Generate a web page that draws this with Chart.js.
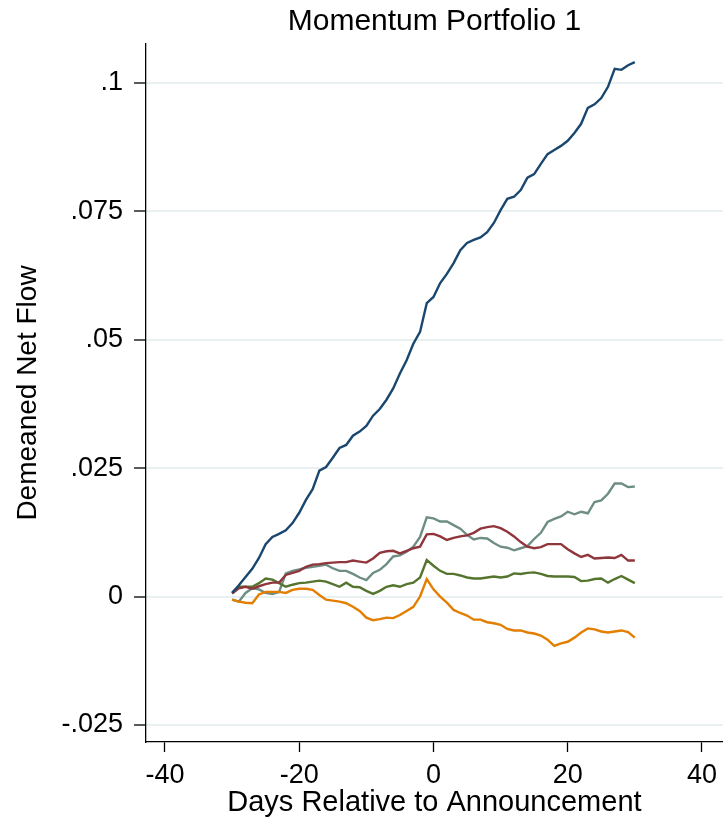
<!DOCTYPE html>
<html>
<head>
<meta charset="utf-8">
<script src="https://cdn.jsdelivr.net/npm/chart.js@4"></script>
<style>
  html, body { margin: 0; padding: 0; background: #fff; }
  #wrap { width: 724px; height: 820px; }
</style>
</head>
<body>
<div id="wrap"><canvas id="chart" width="724" height="820"></canvas></div>
<script>
// ---- data (days -30..30) ----
const days = [
  -30, -29, -28, -27, -26, -25, -24, -23, -22, -21,
  -20, -19, -18, -17, -16, -15, -14, -13, -12, -11,
  -10, -9, -8, -7, -6, -5, -4, -3, -2, -1,
  0,
  1, 2, 3, 4, 5, 6, 7, 8, 9, 10,
  11, 12, 13, 14, 15, 16, 17, 18, 19, 20,
  21, 22, 23, 24, 25, 26, 27, 28, 29, 30
];

const navySeries = [
  .0007, .0022, .0038, .0054, .0075, .0102, .0116, .0122, .0129, .0143,
  .0163, .0188, .0209, .0245, .0252, .0270, .0289, .0295, .0313, .0321,
  .0332, .0352, .0365, .0383, .0405, .0434, .0460, .0492, .0515, .0571,
  .0583,
  .0610, .0628, .0649, .0674, .0688, .0694, .0699, .0709, .0727, .0752,
  .0774, .0778, .0791, .0815, .0822, .0842, .0861, .0869, .0877, .0887,
  .0902, .0920, .0951, .0958, .0970, .0992, .1027, .1025, .1034, .1040
];

const maroonSeries = [
  .0006, .0016, .0019, .0015, .0020, .0024, .0027, .0027, .0042, .0046,
  .0050, .0058, .0062, .0063, .0065, .0066, .0067, .0067, .0070, .0068,
  .0066, .0074, .0085, .0088, .0089, .0084, .0089, .0094, .0097, .0121,
  .0122,
  .0117, .0110, .0114, .0117, .0119, .0124, .0132, .0135, .0137, .0133,
  .0126, .0117, .0106, .0097, .0094, .0096, .0102, .0102, .0102, .0092,
  .0084, .0077, .0081, .0074, .0075, .0076, .0075, .0081, .0070, .0070
];

const greenSeries = [
  .0008, .0019, .0019, .0019, .0026, .0035, .0033, .0026, .0019, .0023,
  .0026, .0027, .0029, .0031, .0029, .0024, .0019, .0027, .0019, .0018,
  .0011, .0005, .0011, .0019, .0022, .0019, .0024, .0027, .0037, .0071,
  .0060,
  .0050, .0044, .0044, .0041, .0037, .0035, .0035, .0037, .0039, .0037,
  .0039, .0045, .0044, .0046, .0047, .0044, .0040, .0039, .0039, .0039,
  .0038, .0030, .0031, .0034, .0035, .0027, .0034, .0040, .0033, .0026
];

const orangeSeries = [
  -.0006, -.0010, -.0012, -.0013, .0004, .0009, .0009, .0009, .0007, .0013,
  .0015, .0015, .0013, .0003, -.0006, -.0008, -.0010, -.0013, -.0020, -.0028,
  -.0041, -.0046, -.0044, -.0041, -.0042, -.0036, -.0028, -.0020, .0000, .0034,
  .0014,
  .0000, -.0012, -.0026, -.0032, -.0037, -.0045, -.0045, -.0050, -.0052, -.0055,
  -.0063, -.0066, -.0066, -.0070, -.0072, -.0076, -.0084, -.0096, -.0091, -.0088,
  -.0080, -.0070, -.0062, -.0064, -.0068, -.0070, -.0068, -.0066, -.0069, -.0080
];

const tealSeries = [
  -.0006, -.0010, .0007, .0016, .0014, .0007, .0005, .0009, .0045, .0050,
  .0053, .0056, .0058, .0060, .0062, .0055, .0050, .0050, .0044, .0037,
  .0032, .0046, .0052, .0063, .0078, .0080, .0087, .0097, .0116, .0154,
  .0152,
  .0146, .0146, .0139, .0132, .0120, .0111, .0114, .0113, .0104, .0097,
  .0095, .0090, .0094, .0098, .0112, .0124, .0145, .0151, .0156, .0165,
  .0160, .0165, .0162, .0184, .0187, .0200, .0220, .0220, .0213, .0214
];

const xTicks = [-40, -20, 0, 20, 40];
const yTicks = [-.025, 0, .025, .05, .075, .1];
const yTickLabels = ['-.025', '0', '.025', '.05', '.075', '.1'];

// ---- chart ----
const FONT = '"Liberation Sans", Arial, Helvetica, sans-serif';

function series(values, color) {
  return {
    data: days.map((d, i) => ({ x: d, y: values[i] })),
    borderColor: color,
    backgroundColor: color,
    borderWidth: 2.4,
    pointRadius: 0,
    tension: 0,
    fill: false
  };
}

new Chart(document.getElementById('chart'), {
  type: 'line',
  data: {
    datasets: [
      series(navySeries, '#1a476f'),
      series(maroonSeries, '#90353b'),
      series(greenSeries, '#55752f'),
      series(orangeSeries, '#e37e00'),
      series(tealSeries, '#6e8e84')
    ]
  },
  options: {
    responsive: false,
    animation: false,
    layout: { padding: 0 },
    plugins: {
      legend: { display: false },
      tooltip: { enabled: false },
      title: {
        display: true,
        text: 'Momentum Portfolio 1',
        fullSize: false,
        color: '#000',
        font: { family: FONT, size: 30, weight: 'normal' },
        padding: { top: 4, bottom: 4 }
      }
    },
    scales: {
      x: {
        type: 'linear',
        min: -42.83,
        max: 43.12,
        afterBuildTicks: s => { s.ticks = xTicks.map(v => ({ value: v })); },
        afterFit: s => { s.height = 78; },
        ticks: {
          color: '#000',
          font: { family: FONT, size: 27 },
          padding: 7,
          maxRotation: 0,
          callback: v => String(v)
        },
        grid: { drawOnChartArea: false, tickLength: 10, tickColor: '#000', tickWidth: 1.3 },
        border: { display: true, color: '#000', width: 1.3 },
        title: {
          display: true,
          text: 'Days Relative to Announcement',
          color: '#000',
          font: { family: FONT, size: 29 },
          padding: { top: 0, bottom: 0 }
        }
      },
      y: {
        type: 'linear',
        min: -.02831,
        max: .10753,
        afterBuildTicks: s => { s.ticks = yTicks.map(v => ({ value: v })); },
        afterFit: s => { s.width = 146; },
        ticks: {
          color: '#000',
          font: { family: FONT, size: 27 },
          padding: 11,
          callback: v => {
            const i = yTicks.findIndex(t => Math.abs(t - v) < 1e-9);
            return i >= 0 ? yTickLabels[i] : '';
          }
        },
        grid: { color: '#e8f0f2', lineWidth: 2, tickLength: 12, tickColor: '#000', tickWidth: 1.3 },
        border: { display: true, color: '#000', width: 1.3 },
        title: {
          display: true,
          text: 'Demeaned Net Flow',
          color: '#000',
          font: { family: FONT, size: 28 },
          padding: { top: 11, bottom: 0 }
        }
      }
    }
  }
});
</script>
</body>
</html>
